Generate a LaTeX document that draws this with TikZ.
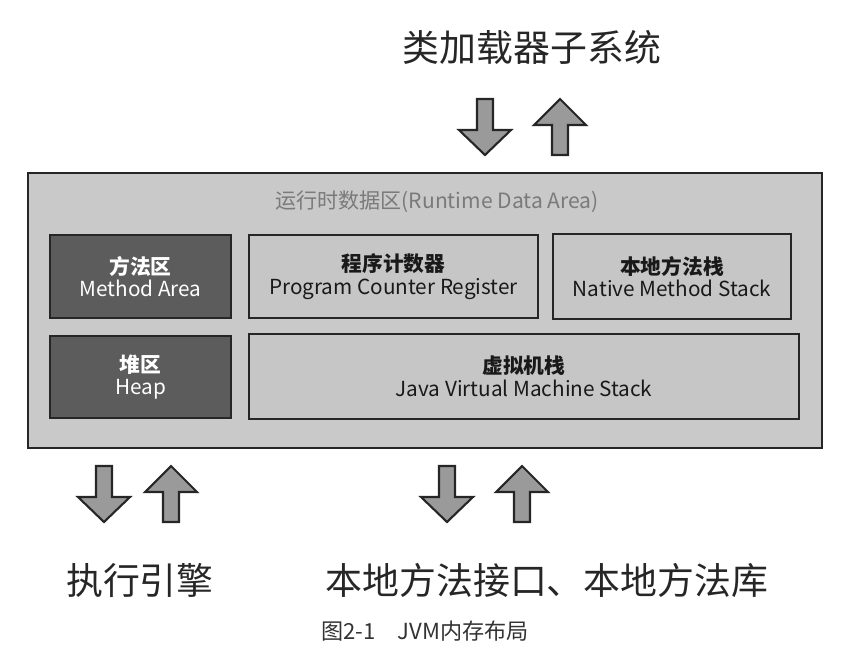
\documentclass[tikz,border=0pt]{standalone}
\usepackage{fontspec}
\setmainfont{Noto Sans CJK SC}
\definecolor{areafill}{HTML}{C9C9C9}
\definecolor{boxfill}{HTML}{C6C6C6}
\definecolor{darkfill}{HTML}{5C5C5C}
\definecolor{boxline}{HTML}{262626}
\definecolor{arrowfill}{HTML}{9A9A9A}
\definecolor{titlegray}{HTML}{7A7A7A}
\tikzset{
  region/.style={draw=boxline, line width=1.2pt, align=center, font=\fontsize{11.8}{12.8}\selectfont},
  lightbox/.style={region, fill=boxfill, text=black!90},
  darkbox/.style={region, fill=darkfill, text=white},
  biglabel/.style={font=\fontsize{21}{25}\selectfont, text=black!85},
  fatarrow/.style={draw=boxline, fill=arrowfill, line width=1.2pt, line join=miter}
}
% arrows, drawn at (x of centre, y of top) in pixel units
\newcommand\arrdown[2]{\draw[fatarrow,shift={(#1,#2)}] (-8,0) -- (8,0) -- (8,31) -- (26,31) -- (0,56) -- (-26,31) -- (-8,31) -- cycle;}
\newcommand\arrup[2]{\draw[fatarrow,shift={(#1,#2)}] (0,0) -- (26,26) -- (8,26) -- (8,56) -- (-8,56) -- (-8,26) -- (-26,26) -- cycle;}
\begin{document}
\begin{tikzpicture}[x=0.02cm,y=-0.02cm]
\useasboundingbox (0,0) rectangle (850,657);
% runtime data area
\node[draw=boxline, line width=1.6pt, fill=areafill, minimum width=15.88cm, minimum height=5.5cm] (area) at (425,310.5) {};
\node[text=titlegray, font=\fontsize{12}{14}\selectfont] (areatitle) at (437,202) {运行时数据区(Runtime Data Area)};
\node[darkbox, minimum width=3.62cm, minimum height=1.66cm] (method) at (140.5,276.5) {\bfseries 方法区\\Method Area};
\node[lightbox, minimum width=5.78cm, minimum height=1.66cm] (pc) at (393.5,276.5) {\bfseries 程序计数器\\Program Counter Register};
\node[lightbox, minimum width=4.76cm, minimum height=1.7cm] (native) at (672,276.5) {\bfseries 本地方法栈\\Native Method Stack};
\node[darkbox, minimum width=3.62cm, minimum height=1.64cm] (heap) at (140.5,377) {\bfseries 堆区\\Heap};
\node[lightbox, minimum width=11cm, minimum height=1.7cm] (jvmstack) at (524,376.5) {\bfseries 虚拟机栈\\Java Virtual Machine Stack};
% outside parts
\node[biglabel] (loader) at (532,47) {类加载器子系统};
\node[biglabel] (engine) at (140,580) {执行引擎};
\node[biglabel] (nativelib) at (547,580) {本地方法接口、本地方法库};
\node[font=\fontsize{12.6}{15}\selectfont, text=black!80] (caption) at (425,631) {图2-1\quad JVM内存布局};
\arrdown{485}{99}
\arrup{560}{99}
\arrdown{104}{466}
\arrup{171}{466}
\arrdown{447}{466}
\arrup{522}{466}
\end{tikzpicture}
\end{document}
